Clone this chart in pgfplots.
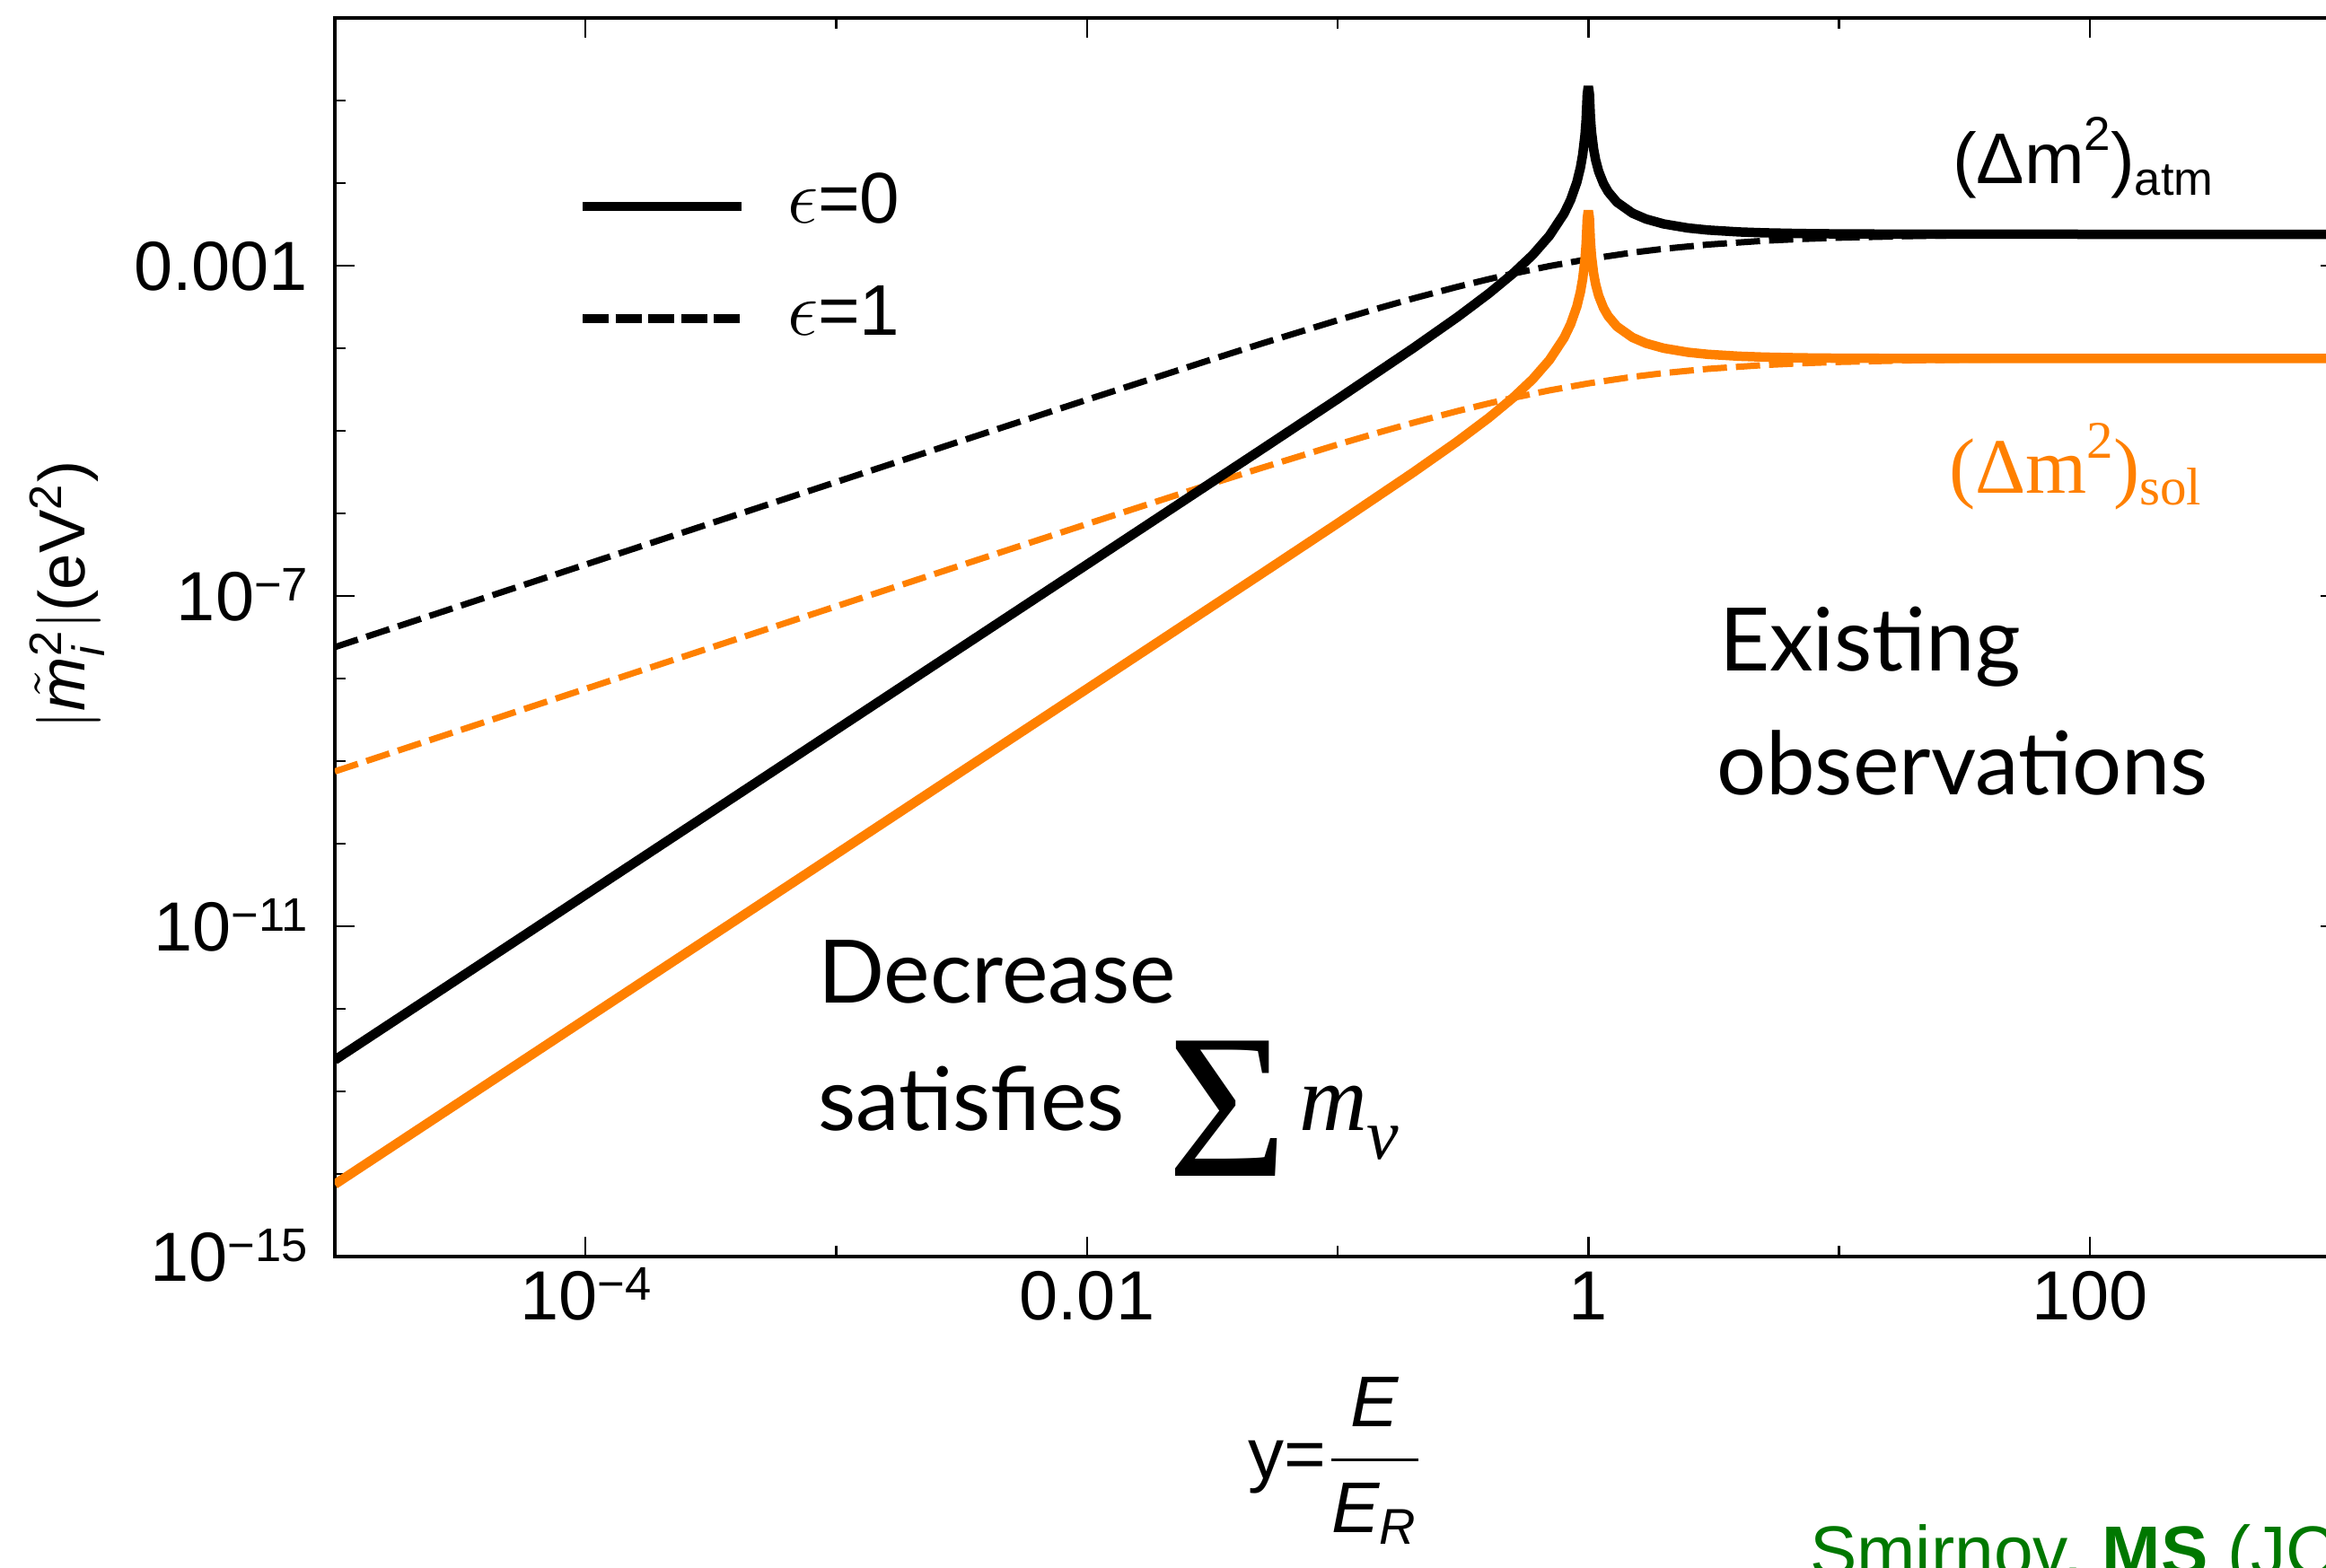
\documentclass[border=0pt]{standalone}
\usepackage{fontspec}
\usepackage{amsmath}
\usepackage{pgfplots}
\pgfplotsset{compat=1.18}
\setmainfont{Liberation Sans}
\newfontfamily\avenir{Lato}
\newfontfamily\timesf{Liberation Serif}
\definecolor{mmaorange}{RGB}{255,128,0}
\definecolor{refgreen}{RGB}{0,120,0}
\newcommand{\expo}[1]{\raisebox{4.4pt}{\fontsize{10.5}{10.5}\selectfont #1}}
\begin{document}
\begin{tikzpicture}
\begin{axis}[
  at={(0,0)}, anchor=south west, scale only axis,
  width=446.8pt, height=276pt,
  xmode=log, ymode=log,
  xmin=1e-5, xmax=1e3, ymin=1e-15, ymax=1,
  xtick={1e-4,1e-2,1,100},
  xticklabels={10\expo{−4},0.01,1,100},
  minor xtick={1e-5,1e-3,1e-1,10,1e3},
  ytick={1e-15,1e-11,1e-7,1e-3},
  yticklabels={10\expo{−15},10\expo{−11},10\expo{−7},0.001},
  minor ytick={1e-14,1e-13,1e-12,1e-10,1e-9,1e-8,1e-6,1e-5,1e-4,1e-2,1e-1},
  tick align=inside,
  major tick length=4.4pt, minor tick length=2.4pt,
  axis line style={line width=0.7pt},
  every tick/.style={black, line width=0.5pt},
  xticklabel style={font=\fontsize{15.5}{15.5}\selectfont, anchor=base, inner sep=0pt, yshift=-14pt},
  yticklabel style={font=\fontsize{15.5}{15.5}\selectfont, anchor=base east, inner sep=0pt, xshift=-5.8pt, yshift=-5.5pt},
  legend style={draw=none, fill=none, at={(axis description cs:0.1209,0.8754)}, anchor=north west,
    inner sep=0pt, row sep=12.4pt, font=\fontsize{16}{16}\selectfont,
    nodes={inner sep=0pt}},
  legend cell align=left,
  legend image code/.code={\draw[#1] (0pt,-1pt) -- (35.4pt,-1pt);},
  /tikz/every odd column/.append style={column sep=9.2pt},
]
% epsilon = 1 (dashed)
\addplot[forget plot, black, line width=1.4pt, line join=bevel, dash pattern=on 5.4pt off 2pt] coordinates {
(1e-5,2.4e-8)(1e-4,2.3998e-7)(1e-3,2.3976e-6)(3e-3,7.1785e-6)(1e-2,2.3762e-5)(0.03,6.9903e-5)(0.05,1.14286e-4)(0.1,2.1818e-4)(0.15,3.1304e-4)(0.2,4.0e-4)(0.3,5.5385e-4)(0.4,6.8571e-4)(0.5,8.0e-4)(0.7,9.8824e-4)(1,1.2e-3)(1.5,1.44e-3)(2,1.6e-3)(3,1.8e-3)(5,2.0e-3)(7,2.1e-3)(10,2.1818e-3)(20,2.2857e-3)(30,2.3226e-3)(50,2.3529e-3)(100,2.3762e-3)(1000,2.3976e-3)};
\addplot[forget plot, mmaorange, line width=1.4pt, line join=bevel, dash pattern=on 5.4pt off 2pt] coordinates {
(1e-5,7.5e-10)(1e-4,7.4993e-9)(1e-3,7.4925e-8)(3e-3,2.2433e-7)(1e-2,7.4257e-7)(0.03,2.1845e-6)(0.05,3.5714e-6)(0.1,6.8182e-6)(0.15,9.7826e-6)(0.2,1.25e-5)(0.3,1.7308e-5)(0.4,2.1429e-5)(0.5,2.5e-5)(0.7,3.0882e-5)(1,3.75e-5)(1.5,4.5e-5)(2,5.0e-5)(3,5.625e-5)(5,6.25e-5)(7,6.5625e-5)(10,6.8182e-5)(20,7.1429e-5)(30,7.2581e-5)(50,7.3529e-5)(100,7.4257e-5)(1000,7.4925e-5)};
% epsilon = 0 (solid)
\addplot[forget plot, black, line width=2.1pt, line join=bevel] coordinates {
(1e-5,2.4e-13)(1e-4,2.4e-11)(1e-3,2.4e-9)(1e-2,2.4002e-7)(0.05,6.015e-6)(0.1,2.4242e-5)(0.2,1.0e-4)(0.3,2.3736e-4)(0.4,4.5714e-4)(0.5,8.0e-4)(0.6,1.35e-3)(0.7,2.3059e-3)(0.8,4.2667e-3)(0.85,6.2486e-3)(0.9,1.02316e-2)(0.93,1.53646e-2)(0.95,2.22154e-2)(0.97,3.82091e-2)(0.98,5.82061e-2)(0.99,0.118203)(1,0.1488)(1.01,0.121803)(1.02,6.18059e-2)(1.03,4.18089e-2)(1.05,2.58146e-2)(1.07,1.89631e-2)(1.1,1.38286e-2)(1.15,9.8419e-3)(1.2,7.8545e-3)(1.3,5.8783e-3)(1.5,4.32e-3)(1.7,3.6698e-3)(2,3.2e-3)(2.5,2.8571e-3)(3,2.7e-3)(4,2.56e-3)(5,2.5e-3)(7,2.45e-3)(10,2.4242e-3)(20,2.406e-3)(100,2.4002e-3)(1000,2.4e-3)};
\addplot[forget plot, mmaorange, line width=2.1pt, line join=bevel] coordinates {
(1e-5,7.5e-15)(1e-4,7.5e-13)(1e-3,7.5e-11)(1e-2,7.5008e-9)(0.05,1.8797e-7)(0.1,7.5758e-7)(0.2,3.125e-6)(0.3,7.4176e-6)(0.4,1.42857e-5)(0.5,2.5e-5)(0.6,4.21875e-5)(0.7,7.2059e-5)(0.8,1.33333e-4)(0.85,1.9527e-4)(0.9,3.19737e-4)(0.93,4.80144e-4)(0.95,6.94231e-4)(0.97,1.194036e-3)(0.98,1.818939e-3)(0.99,3.693844e-3)(1,4.65e-3)(1.01,3.806343e-3)(1.02,1.931436e-3)(1.03,1.306527e-3)(1.05,8.06707e-4)(1.07,5.92598e-4)(1.1,4.32143e-4)(1.15,3.07558e-4)(1.2,2.45455e-4)(1.3,1.83696e-4)(1.5,1.35e-4)(1.7,1.14683e-4)(2,1.0e-4)(2.5,8.9286e-5)(3,8.4375e-5)(4,8.0e-5)(5,7.8125e-5)(7,7.6563e-5)(10,7.5758e-5)(20,7.5188e-5)(100,7.5008e-5)(1000,7.5e-5)};
\addlegendimage{black, line width=2pt}
\addlegendentry{$\epsilon$=0}
\addlegendimage{black, line width=2pt, dash pattern=on 5.8pt off 1.5pt}
\addlegendentry{$\epsilon$=1}
\end{axis}
% axis labels
\node[rotate=90, inner sep=0pt, font=\fontsize{14.5}{14.5}\selectfont] at (-59.6pt,147.4pt)
  {$|\tilde{\text{\itshape m}}{}_{\text{\itshape i}}^{\text{2}}|$(eV$^{\text{2}}$)};
\node[anchor=base, inner sep=0pt, font=\fontsize{16}{16}\selectfont] at (223pt,-49.6pt)
  {y=$\dfrac{\text{\itshape E}}{\text{\itshape E}_{\text{\itshape R}}}$};
% curve labels
\node[anchor=base west, inner sep=0pt, font=\fontsize{16}{16}\selectfont] at (360.2pt,239pt)
  {(Δm\raisebox{7.4pt}{\fontsize{10.6}{10.6}\selectfont 2})\raisebox{-2.6pt}{\fontsize{10.5}{10.5}\selectfont atm}};
\node[anchor=base west, inner sep=0pt, text=mmaorange, font=\timesf\fontsize{17.5}{17.5}\selectfont] at (359.4pt,170pt)
  {(Δm\raisebox{7.8pt}{\fontsize{11.8}{11.8}\selectfont 2})\raisebox{-2.6pt}{\fontsize{11.8}{11.8}\selectfont sol}};
% annotations
\node[anchor=base west, inner sep=0pt, font=\avenir\fontsize{19.5}{19.5}\selectfont] at (308.2pt,130.4pt) {Existing};
\node[anchor=base west, inner sep=0pt, font=\avenir\fontsize{19.5}{19.5}\selectfont] at (307.6pt,102.8pt) {observations};
\node[anchor=base west, inner sep=0pt, font=\avenir\fontsize{19.5}{19.5}\selectfont] at (107.4pt,56.4pt) {Decrease};
\node[anchor=base west, inner sep=0pt, font=\avenir\fontsize{19.5}{19.5}\selectfont] at (107.4pt,28pt) {satisfies};
\node[anchor=base west, inner sep=0pt, font=\timesf\fontsize{46}{46}\selectfont] at (185.2pt,17.8pt) {Σ};
\node[anchor=base west, inner sep=0pt, font=\timesf\itshape\fontsize{21}{21}\selectfont] at (214.6pt,28pt)
  {m\raisebox{-6.4pt}{\fontsize{16}{16}\selectfont ν}};
\node[anchor=base west, inner sep=0pt, text=refgreen, font=\fontsize{15.7}{15.7}\selectfont] at (328.4pt,-71.2pt) {Smirnov, \textbf{MS} (JCAP 2022)};
\pgfresetboundingbox
\path[use as bounding box] (-74.6pt,-69.4pt) rectangle (443.6pt,280pt);
\end{tikzpicture}
\end{document}
